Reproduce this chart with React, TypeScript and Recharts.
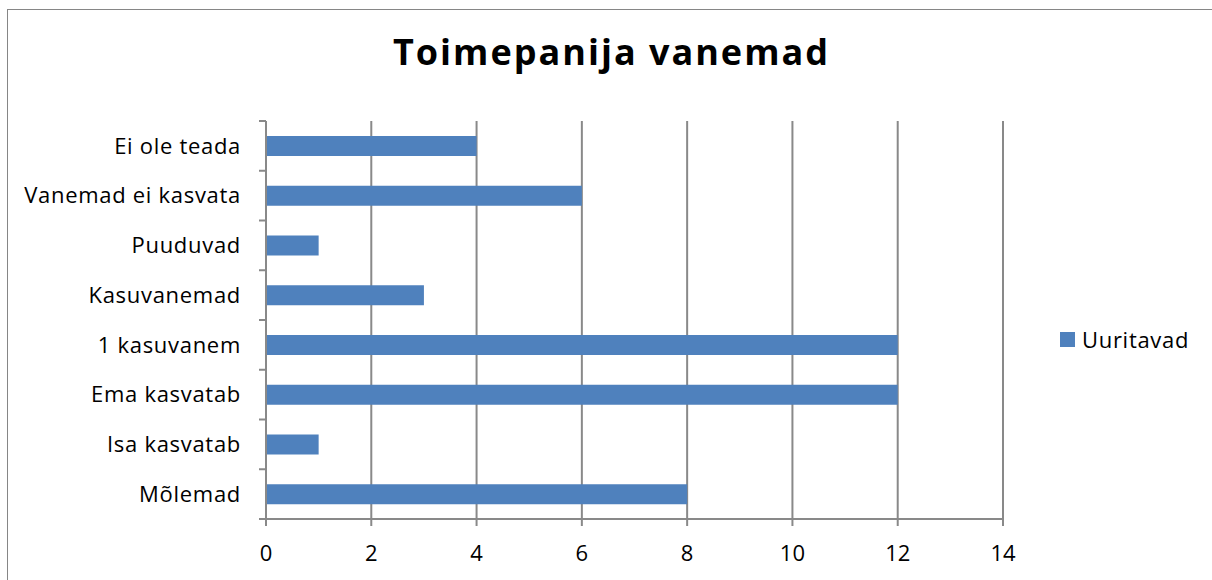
import React from 'react';
import { BarChart, Bar, XAxis, YAxis, CartesianGrid, Legend } from 'recharts';

const title = 'Toimepanija vanemad';
const seriesName = 'Uuritavad';
const categories = [
  'Ei ole teada',
  'Vanemad ei kasvata',
  'Puuduvad',
  'Kasuvanemad',
  '1 kasuvanem',
  'Ema kasvatab',
  'Isa kasvatab',
  'Mõlemad',
];
const uuritavad = [4, 6, 1, 3, 12, 12, 1, 8];
const xTicks = [0, 2, 4, 6, 8, 10, 12, 14];

const data = categories.map((name, i) => ({ name, value: uuritavad[i] }));

const FONT = '"Open Sans", sans-serif';
const AXIS = '#898989';
const BAR = '#4f81bd';

const W = 1212;
const H = 580;
const margin = { top: 121, right: 209, bottom: 21, left: 0 };
const Y_AXIS_W = 266;
const X_AXIS_H = 40;
const TICK = 7;
const plotH = H - margin.top - margin.bottom - X_AXIS_H;
const band = plotH / categories.length;

// category labels with boundary tick marks (Excel style)
const CategoryTick = (props: any) => {
  const { x, y, payload, index } = props;
  const axisX = x + 18 + TICK;
  const isLast = index === categories.length - 1;
  return (
    <g>
      <line x1={axisX - TICK} x2={axisX} y1={y - band / 2} y2={y - band / 2} stroke={AXIS} strokeWidth={2} />
      {isLast && (
        <line x1={axisX - TICK} x2={axisX} y1={y + band / 2} y2={y + band / 2} stroke={AXIS} strokeWidth={2} />
      )}
      <text
        x={x}
        y={y}
        dy="0.35em"
        textAnchor="end"
        fill="#000"
        fontSize={22}
        letterSpacing={0.7}
        fontFamily={FONT}
      >
        {payload.value}
      </text>
    </g>
  );
};

const LegendContent = () => (
  <div
    style={{
      display: 'flex',
      alignItems: 'center',
      fontFamily: FONT,
      fontSize: 22,
      letterSpacing: 0.7,
      color: '#000',
      whiteSpace: 'nowrap',
    }}
  >
    <span style={{ display: 'inline-block', width: 15, height: 15, background: BAR, marginRight: 7 }} />
    <span>{seriesName}</span>
  </div>
);

export default function App() {
  return (
    <div style={{ position: 'fixed', left: 0, top: 0, width: W, height: H, overflow: 'hidden', background: '#fff' }}>
      <div
        style={{
          position: 'absolute',
          left: 0,
          top: 32,
          width: 1223,
          textAlign: 'center',
          fontFamily: FONT,
          fontWeight: 700,
          fontSize: 36,
          letterSpacing: 2,
          lineHeight: '40px',
          color: '#000',
          whiteSpace: 'nowrap',
        }}
      >
        {title}
      </div>
      <div style={{ position: 'absolute', left: 0, top: 0 }}>
        <BarChart width={W} height={H} data={data} layout="vertical" margin={margin}>
          <CartesianGrid horizontal={false} vertical stroke={AXIS} strokeWidth={2} />
          <XAxis
            type="number"
            domain={[0, 14]}
            ticks={xTicks}
            height={X_AXIS_H}
            stroke={AXIS}
            strokeWidth={2}
            tickSize={TICK}
            tickMargin={19}
            tick={{ fill: '#000', fontSize: 22, fontFamily: FONT }}
          />
          <YAxis
            type="category"
            dataKey="name"
            width={Y_AXIS_W}
            stroke={AXIS}
            strokeWidth={2}
            tickLine={false}
            tickSize={TICK}
            tickMargin={18}
            tick={<CategoryTick />}
            interval={0}
          />
          <Legend
            layout="horizontal"
            align="center"
            verticalAlign="middle"
            content={<LegendContent />}
            wrapperStyle={{ left: 1060, top: 324, width: 'auto' }}
          />
          <Bar dataKey="value" name={seriesName} fill={BAR} barSize={20} isAnimationActive={false} />
        </BarChart>
      </div>
      <div
        style={{
          position: 'absolute',
          left: 7,
          top: 9,
          width: W,
          height: H,
          borderLeft: '1px solid #868686',
          borderTop: '1px solid #868686',
          pointerEvents: 'none',
        }}
      />
    </div>
  );
}
